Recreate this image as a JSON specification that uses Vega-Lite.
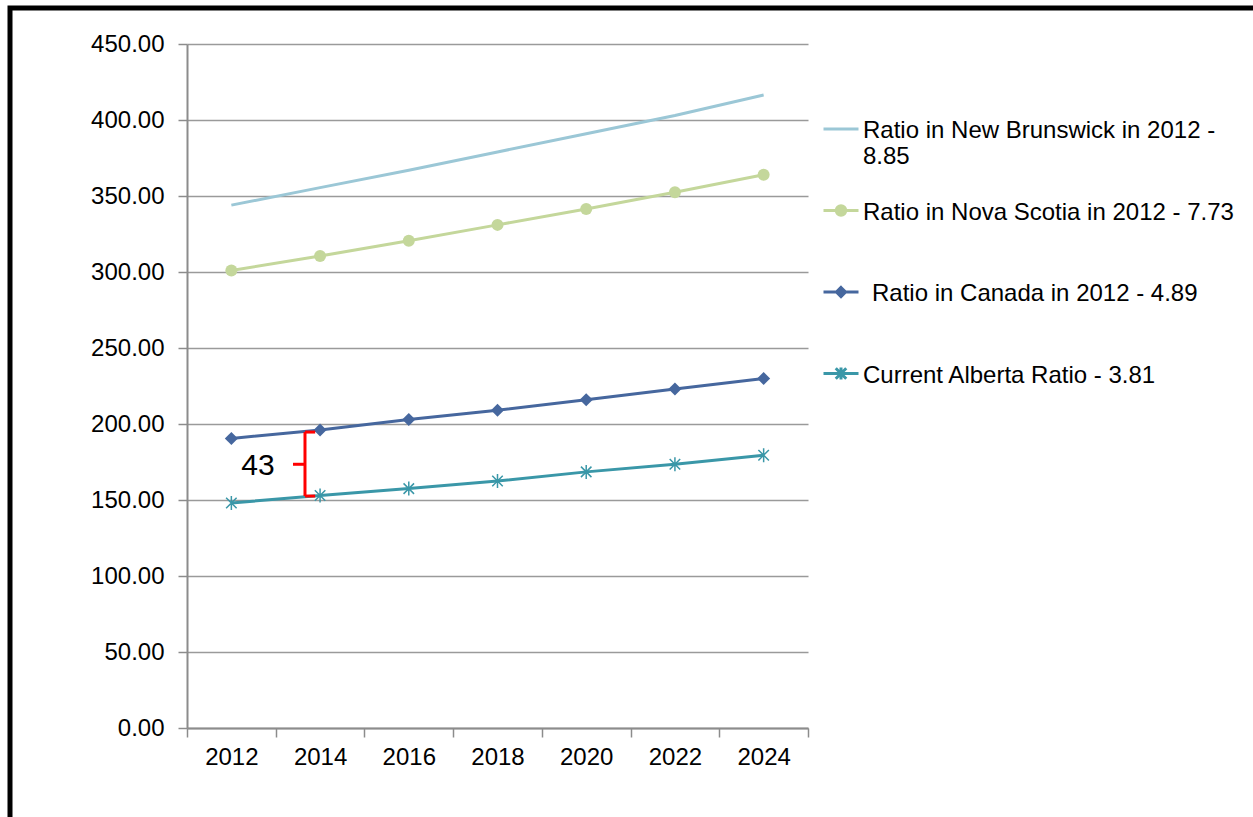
{
  "$schema": "https://vega.github.io/schema/vega-lite/v6.json",
  "width": 1253,
  "height": 819,
  "autosize": {"type": "none"},
  "padding": {"left": 10, "top": 8, "right": -10, "bottom": -10},
  "background": "white",
  "config": {"view": {"stroke": "black", "strokeWidth": 5}, "font": "Liberation Sans"},
  "datasets": {
    "series": [
      {"series": "Ratio in New Brunswick in 2012 - 8.85", "year": 2012, "value": 344},
      {"series": "Ratio in New Brunswick in 2012 - 8.85", "year": 2014, "value": 355.5},
      {"series": "Ratio in New Brunswick in 2012 - 8.85", "year": 2016, "value": 367},
      {"series": "Ratio in New Brunswick in 2012 - 8.85", "year": 2018, "value": 379},
      {"series": "Ratio in New Brunswick in 2012 - 8.85", "year": 2020, "value": 391},
      {"series": "Ratio in New Brunswick in 2012 - 8.85", "year": 2022, "value": 403},
      {"series": "Ratio in New Brunswick in 2012 - 8.85", "year": 2024, "value": 416.5},
      {"series": "Ratio in Nova Scotia in 2012 - 7.73", "year": 2012, "value": 301},
      {"series": "Ratio in Nova Scotia in 2012 - 7.73", "year": 2014, "value": 310.5},
      {"series": "Ratio in Nova Scotia in 2012 - 7.73", "year": 2016, "value": 320.5},
      {"series": "Ratio in Nova Scotia in 2012 - 7.73", "year": 2018, "value": 331},
      {"series": "Ratio in Nova Scotia in 2012 - 7.73", "year": 2020, "value": 341.5},
      {"series": "Ratio in Nova Scotia in 2012 - 7.73", "year": 2022, "value": 352.5},
      {"series": "Ratio in Nova Scotia in 2012 - 7.73", "year": 2024, "value": 364},
      {"series": "Ratio in Canada in 2012 - 4.89", "year": 2012, "value": 190.5},
      {"series": "Ratio in Canada in 2012 - 4.89", "year": 2014, "value": 196},
      {"series": "Ratio in Canada in 2012 - 4.89", "year": 2016, "value": 203},
      {"series": "Ratio in Canada in 2012 - 4.89", "year": 2018, "value": 209},
      {"series": "Ratio in Canada in 2012 - 4.89", "year": 2020, "value": 216},
      {"series": "Ratio in Canada in 2012 - 4.89", "year": 2022, "value": 223},
      {"series": "Ratio in Canada in 2012 - 4.89", "year": 2024, "value": 230},
      {"series": "Current Alberta Ratio - 3.81", "year": 2012, "value": 148},
      {"series": "Current Alberta Ratio - 3.81", "year": 2014, "value": 153},
      {"series": "Current Alberta Ratio - 3.81", "year": 2016, "value": 157.5},
      {"series": "Current Alberta Ratio - 3.81", "year": 2018, "value": 162.5},
      {"series": "Current Alberta Ratio - 3.81", "year": 2020, "value": 168.5},
      {"series": "Current Alberta Ratio - 3.81", "year": 2022, "value": 173.5},
      {"series": "Current Alberta Ratio - 3.81", "year": 2024, "value": 179.5}
    ],
    "bracket": [
      {"year": 2013.66, "value": 194.7, "year2": 2013.66, "value2": 152.6},
      {"year": 2013.66, "value": 194.7, "year2": 2013.89, "value2": 194.7},
      {"year": 2013.66, "value": 152.6, "year2": 2013.89, "value2": 152.6},
      {"year": 2013.39, "value": 173.5, "year2": 2013.66, "value2": 173.5}
    ],
    "label": [{"year": 2012.6, "value": 172.4, "text": "43"}]
  },
  "layer": [
    {
      "data": {"name": "series"},
      "mark": {"type": "line", "strokeWidth": 3},
      "encoding": {
        "x": {
          "field": "year", "type": "quantitative",
          "scale": {"domain": [2011, 2025], "range": [177, 798], "nice": false, "zero": false},
          "axis": {
            "title": null,
            "values": [2011, 2012, 2013, 2014, 2015, 2016, 2017, 2018, 2019, 2020, 2021, 2022, 2023, 2024, 2025],
            "format": "d",
            "labelExpr": "datum.value % 2 === 0 ? datum.label : ''",
            "offset": -99,
            "grid": false,
            "tickSize": 9,
            "tickWidth": 1.5,
            "tickColor": "#8c8c8c",
            "tickOpacity": {"condition": {"test": "datum.value % 2 === 0", "value": 0}, "value": 1},
            "domainColor": "#8c8c8c",
            "domainWidth": 2,
            "labelFontSize": 24,
            "labelColor": "#000000",
            "labelPadding": 8,
            "labelOverlap": false,
            "labelFlush": false
          }
        },
        "y": {
          "field": "value", "type": "quantitative",
          "scale": {"domain": [0, 450], "range": [720, 36], "nice": false, "zero": true},
          "axis": {
            "title": null,
            "values": [0, 50, 100, 150, 200, 250, 300, 350, 400, 450],
            "format": ".2f",
            "offset": -177,
            "grid": true,
            "gridColor": "#9a9a9a",
            "gridWidth": 1.5,
            "tickSize": 9,
            "tickWidth": 1.5,
            "tickColor": "#8c8c8c",
            "domainColor": "#8c8c8c",
            "domainWidth": 2,
            "labelFontSize": 24,
            "labelColor": "#000000",
            "labelPadding": 14,
            "labelOverlap": false,
            "labelFlush": false
          }
        },
        "color": {
          "field": "series", "type": "nominal",
          "scale": {
            "domain": ["Ratio in New Brunswick in 2012 - 8.85", "Ratio in Nova Scotia in 2012 - 7.73", "Ratio in Canada in 2012 - 4.89", "Current Alberta Ratio - 3.81"],
            "range": ["#9bc7d6", "#c4d79b", "#46679e", "#3a97a8"]
          },
          "legend": {
            "orient": "none", "legendX": 812, "legendY": 102, "title": null, "padding": 0,
            "symbolSize": 1225, "symbolStrokeWidth": 3,
            "symbolType": {"expr": "datum.value === 'Ratio in Nova Scotia in 2012 - 7.73' ? 'M-1,0L1,0M-0.27,0A0.27,0.27 0 1,0 0.27,0A0.27,0.27 0 1,0 -0.27,0Z' : datum.value === 'Current Alberta Ratio - 3.81' ? 'M-1,0L1,0M0,-0.34L0,0.34M-0.3,-0.3L0.3,0.3M-0.3,0.3L0.3,-0.3' : datum.value === 'Ratio in New Brunswick in 2012 - 8.85' ? 'M-1,0L1,0' : 'M-1,0L1,0M0,-0.26L0.26,0L0,0.26L-0.26,0Z'"},
            "symbolFillColor": {"expr": "scale('color', datum.value)"},
            "labelFontSize": 24, "labelFont": "Liberation Sans", "labelColor": "#000000",
            "labelOffset": 3, "labelLimit": 600, "labelBaseline": "top", "labelLineHeight": 27,
            "rowPadding": 22.5, "gridAlign": "all",
            "labelExpr": "datum.label === 'Ratio in New Brunswick in 2012 - 8.85' ? ['Ratio in New Brunswick in 2012 -', '8.85'] : datum.label",
            "encode": {"labels": {"update": {"dy": {"value": -10}, "dx": {"signal": "datum.value === 'Ratio in Canada in 2012 - 4.89' ? 9 : 0"}}}}
          }
        }
      }
    },
    {
      "data": {"name": "series"},
      "transform": [{"filter": "datum.series === 'Ratio in Nova Scotia in 2012 - 7.73'"}],
      "mark": {"type": "point", "shape": "circle", "filled": true, "size": 144, "color": "#c4d79b", "opacity": 1},
      "encoding": {
        "x": {"field": "year", "type": "quantitative"},
        "y": {"field": "value", "type": "quantitative"}
      }
    },
    {
      "data": {"name": "series"},
      "transform": [{"filter": "datum.series === 'Ratio in Canada in 2012 - 4.89'"}],
      "mark": {"type": "point", "shape": "diamond", "filled": true, "size": 170, "color": "#46679e", "opacity": 1},
      "encoding": {
        "x": {"field": "year", "type": "quantitative"},
        "y": {"field": "value", "type": "quantitative"}
      }
    },
    {
      "data": {"name": "series"},
      "transform": [{"filter": "datum.series === 'Current Alberta Ratio - 3.81'"}],
      "mark": {"type": "point", "shape": "M0,-1L0,1M-0.75,-0.75L0.75,0.75M-0.75,0.75L0.75,-0.75", "filled": false, "size": 196, "strokeWidth": 1.5, "color": "#3a97a8", "opacity": 1},
      "encoding": {
        "x": {"field": "year", "type": "quantitative"},
        "y": {"field": "value", "type": "quantitative"}
      }
    },
    {
      "data": {"name": "bracket"},
      "mark": {"type": "rule", "color": "#ff0000", "strokeWidth": 3},
      "encoding": {
        "x": {"field": "year", "type": "quantitative"},
        "x2": {"field": "year2"},
        "y": {"field": "value", "type": "quantitative"},
        "y2": {"field": "value2"}
      }
    },
    {
      "data": {"name": "label"},
      "mark": {"type": "text", "fontSize": 30, "color": "#000000", "align": "center", "baseline": "middle", "font": "Liberation Sans"},
      "encoding": {
        "x": {"field": "year", "type": "quantitative"},
        "y": {"field": "value", "type": "quantitative"},
        "text": {"field": "text"}
      }
    }
  ]
}
